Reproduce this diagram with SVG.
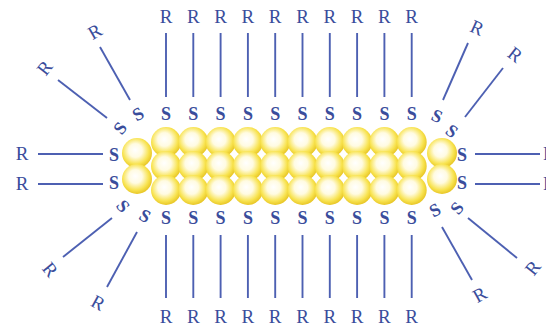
<svg xmlns="http://www.w3.org/2000/svg" width="546" height="327" viewBox="0 0 546 327">
  <style>
    .t { font-family: "Liberation Serif", "Times New Roman", serif; font-size: 19px; fill: #3a4d9c; text-anchor: middle; }
    .s { font-weight: bold; font-size: 18px; }
    .ln { stroke: #4d60b2; stroke-width: 1.9; fill: none; }
  </style>
  <defs>
    <radialGradient id="gold" cx="0.46" cy="0.44" r="0.56" fx="0.44" fy="0.4">
      <stop offset="0" stop-color="#ffffff"/>
      <stop offset="0.4" stop-color="#fffbe2"/>
      <stop offset="0.78" stop-color="#f8e350"/>
      <stop offset="1" stop-color="#e8c626"/>
    </radialGradient>
    <circle id="ball" r="15" fill="url(#gold)"/>
  </defs>
  <rect width="546" height="327" fill="#ffffff"/>

  <!-- gold core: three rows of ten atoms plus two end atoms on each side -->
  <g id="core">
    <use href="#ball" x="137" y="153"/><use href="#ball" x="137" y="179"/>
    <use href="#ball" x="442" y="153"/><use href="#ball" x="442" y="179"/>
    <g id="row-top">
      <use href="#ball" x="166" y="142"/><use href="#ball" x="193.3" y="142"/><use href="#ball" x="220.6" y="142"/><use href="#ball" x="247.9" y="142"/><use href="#ball" x="275.2" y="142"/>
      <use href="#ball" x="302.5" y="142"/><use href="#ball" x="329.8" y="142"/><use href="#ball" x="357.1" y="142"/><use href="#ball" x="384.4" y="142"/><use href="#ball" x="411.7" y="142"/>
    </g>
    <g id="row-mid">
      <use href="#ball" x="166" y="166"/><use href="#ball" x="193.3" y="166"/><use href="#ball" x="220.6" y="166"/><use href="#ball" x="247.9" y="166"/><use href="#ball" x="275.2" y="166"/>
      <use href="#ball" x="302.5" y="166"/><use href="#ball" x="329.8" y="166"/><use href="#ball" x="357.1" y="166"/><use href="#ball" x="384.4" y="166"/><use href="#ball" x="411.7" y="166"/>
    </g>
    <g id="row-bot">
      <use href="#ball" x="166" y="190"/><use href="#ball" x="193.3" y="190"/><use href="#ball" x="220.6" y="190"/><use href="#ball" x="247.9" y="190"/><use href="#ball" x="275.2" y="190"/>
      <use href="#ball" x="302.5" y="190"/><use href="#ball" x="329.8" y="190"/><use href="#ball" x="357.1" y="190"/><use href="#ball" x="384.4" y="190"/><use href="#ball" x="411.7" y="190"/>
    </g>
  </g>

  <!-- S–R bonds -->
  <g id="connectors" class="ln">
    <!-- top, vertical -->
    <line x1="166" y1="33" x2="166" y2="97"/><line x1="193.3" y1="33" x2="193.3" y2="97"/><line x1="220.6" y1="33" x2="220.6" y2="97"/><line x1="247.9" y1="33" x2="247.9" y2="97"/><line x1="275.2" y1="33" x2="275.2" y2="97"/>
    <line x1="302.5" y1="33" x2="302.5" y2="97"/><line x1="329.8" y1="33" x2="329.8" y2="97"/><line x1="357.1" y1="33" x2="357.1" y2="97"/><line x1="384.4" y1="33" x2="384.4" y2="97"/><line x1="411.7" y1="33" x2="411.7" y2="97"/>
    <!-- bottom, vertical -->
    <line x1="166" y1="235" x2="166" y2="298"/><line x1="193.3" y1="235" x2="193.3" y2="298"/><line x1="220.6" y1="235" x2="220.6" y2="298"/><line x1="247.9" y1="235" x2="247.9" y2="298"/><line x1="275.2" y1="235" x2="275.2" y2="298"/>
    <line x1="302.5" y1="235" x2="302.5" y2="298"/><line x1="329.8" y1="235" x2="329.8" y2="298"/><line x1="357.1" y1="235" x2="357.1" y2="298"/><line x1="384.4" y1="235" x2="384.4" y2="298"/><line x1="411.7" y1="235" x2="411.7" y2="298"/>
    <!-- ends, horizontal -->
    <line x1="38" y1="154" x2="103" y2="154"/><line x1="38" y1="184" x2="103" y2="184"/>
    <line x1="475" y1="154" x2="540" y2="154"/><line x1="475" y1="184" x2="540" y2="184"/>
    <!-- corners, slanted -->
    <line x1="100" y1="47" x2="130" y2="100"/><line x1="58" y1="80" x2="107" y2="118"/>
    <line x1="468" y1="43" x2="443" y2="100"/><line x1="503" y1="68" x2="465" y2="117"/>
    <line x1="112" y1="218" x2="63" y2="257"/><line x1="137" y1="232" x2="107" y2="287"/>
    <line x1="442" y1="227" x2="472" y2="280"/><line x1="468" y1="218" x2="517" y2="258"/>
  </g>

  <!-- top ligands -->
  <g id="ligands-top" class="t">
    <text x="166" y="23">R</text><text x="193.3" y="23">R</text><text x="220.6" y="23">R</text><text x="247.9" y="23">R</text><text x="275.2" y="23">R</text>
    <text x="302.5" y="23">R</text><text x="329.8" y="23">R</text><text x="357.1" y="23">R</text><text x="384.4" y="23">R</text><text x="411.7" y="23">R</text>
    <g class="s">
      <text x="166" y="120">S</text><text x="193.3" y="120">S</text><text x="220.6" y="120">S</text><text x="247.9" y="120">S</text><text x="275.2" y="120">S</text>
      <text x="302.5" y="120">S</text><text x="329.8" y="120">S</text><text x="357.1" y="120">S</text><text x="384.4" y="120">S</text><text x="411.7" y="120">S</text>
    </g>
  </g>

  <!-- bottom ligands -->
  <g id="ligands-bottom" class="t">
    <text x="166" y="323">R</text><text x="193.3" y="323">R</text><text x="220.6" y="323">R</text><text x="247.9" y="323">R</text><text x="275.2" y="323">R</text>
    <text x="302.5" y="323">R</text><text x="329.8" y="323">R</text><text x="357.1" y="323">R</text><text x="384.4" y="323">R</text><text x="411.7" y="323">R</text>
    <g class="s">
      <text x="166" y="224">S</text><text x="193.3" y="224">S</text><text x="220.6" y="224">S</text><text x="247.9" y="224">S</text><text x="275.2" y="224">S</text>
      <text x="302.5" y="224">S</text><text x="329.8" y="224">S</text><text x="357.1" y="224">S</text><text x="384.4" y="224">S</text><text x="411.7" y="224">S</text>
    </g>
  </g>

  <!-- end ligands; the right-hand R labels run past the edge of the sheet -->
  <g id="ligands-left" class="t">
    <text x="22" y="160">R</text><text x="22" y="190">R</text>
    <text class="s" x="114" y="161">S</text><text class="s" x="114" y="189">S</text>
  </g>
  <g id="ligands-right" class="t">
    <text x="543" y="160" style="text-anchor:start">R</text><text x="543" y="190" style="text-anchor:start">R</text>
    <text class="s" x="462" y="161">S</text><text class="s" x="462" y="189">S</text>
  </g>

  <!-- corner ligands, each label turned with its bond -->
  <g id="ligands-corners" class="t">
    <text transform="translate(95 32) rotate(-30)" y="6">R</text>
    <text transform="translate(45 68) rotate(-52)" y="6">R</text>
    <text class="s" transform="translate(138 114) rotate(-30)" y="6">S</text>
    <text class="s" transform="translate(120 128) rotate(-52)" y="6">S</text>

    <text transform="translate(477 28) rotate(24)" y="6">R</text>
    <text transform="translate(515 55) rotate(38)" y="6">R</text>
    <text class="s" transform="translate(437 116) rotate(24)" y="6">S</text>
    <text class="s" transform="translate(452 131) rotate(38)" y="6">S</text>

    <text transform="translate(98 303) rotate(29)" y="6">R</text>
    <text transform="translate(50 270) rotate(51)" y="6">R</text>
    <text class="s" transform="translate(145 216) rotate(29)" y="6">S</text>
    <text class="s" transform="translate(123 206) rotate(51)" y="6">S</text>

    <text transform="translate(480 295) rotate(-29)" y="6">R</text>
    <text transform="translate(533 268) rotate(-51)" y="6">R</text>
    <text class="s" transform="translate(435 210) rotate(-29)" y="6">S</text>
    <text class="s" transform="translate(457 208) rotate(-51)" y="6">S</text>
  </g>
</svg>
